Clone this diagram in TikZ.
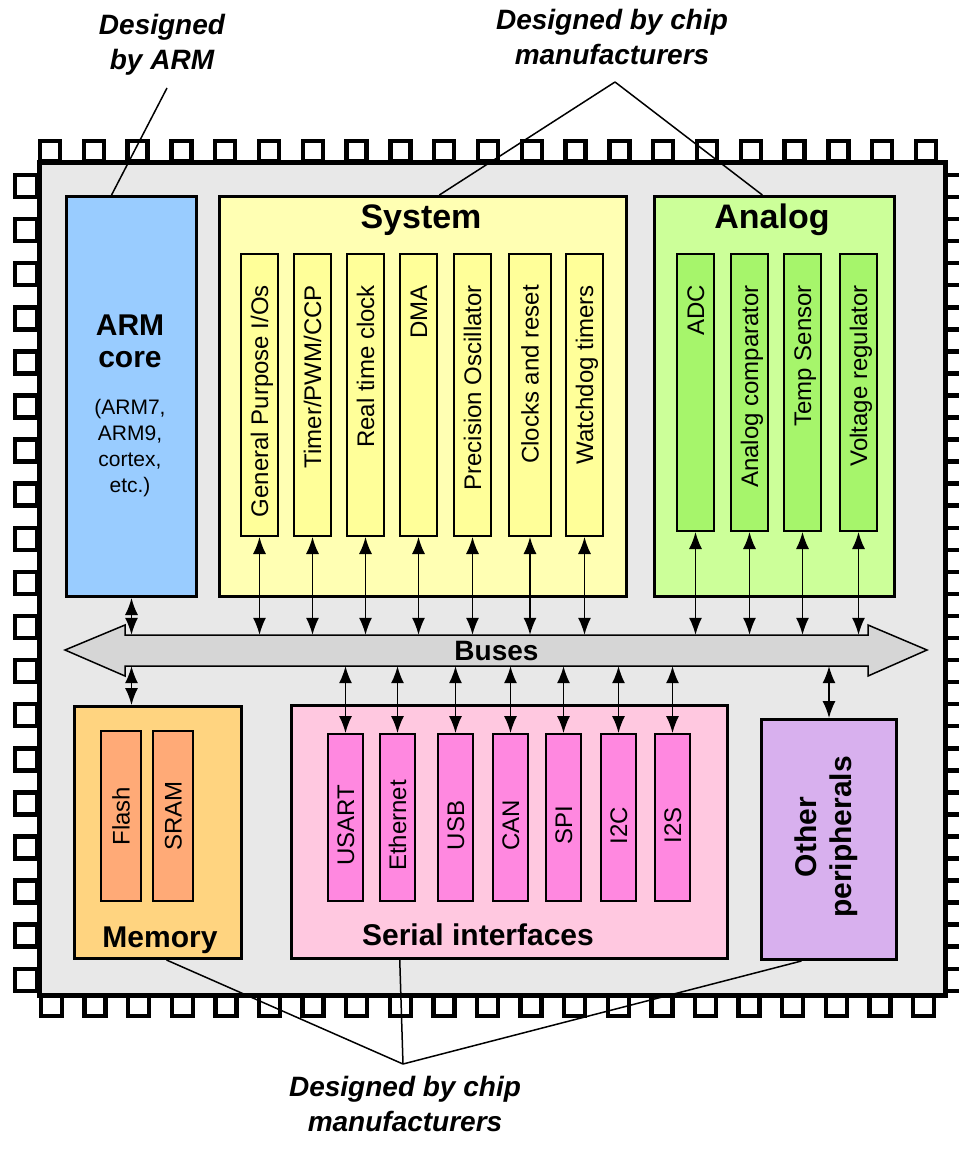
\documentclass[tikz,border=0pt]{standalone}
\usepackage{fontspec}
\setmainfont{Liberation Sans}
\usetikzlibrary{arrows.meta,calc}
\definecolor{bodyc}{HTML}{E8E8E8}
\definecolor{busc}{HTML}{D6D6D6}
\definecolor{armc}{HTML}{99CCFF}
\definecolor{sysc}{HTML}{FFFFB3}
\definecolor{sysbar}{HTML}{FFFF99}
\definecolor{anac}{HTML}{CCFF99}
\definecolor{anabar}{HTML}{A6F56B}
\definecolor{memc}{HTML}{FFD480}
\definecolor{membar}{HTML}{FFAA77}
\definecolor{serc}{HTML}{FFC8E0}
\definecolor{serbar}{HTML}{FF88E0}
\definecolor{othc}{HTML}{D8B0EE}
\tikzset{
  pinbox/.style={draw, line width=4.5pt, fill=white},
  bigbox/.style={draw, line width=3pt, inner sep=0pt},
  barbox/.style={draw, line width=2pt, inner sep=0pt, minimum width=37pt},
  barlbl/.style={font=\fontsize{24}{28}\selectfont, inner sep=0pt, text height=17.2pt, text depth=0pt, rotate=90, anchor=east},
  conn/.style={line width=1.4pt, {Latex[length=17pt,width=13pt]}-{Latex[length=17pt,width=13pt]}},
  ann/.style={font=\bfseries\itshape\fontsize{28}{35}\selectfont, align=center, inner sep=0pt},
  annline/.style={line width=1.5pt},
  ttl/.style={font=\bfseries\fontsize{34}{40}\selectfont, inner sep=0pt},
  sub/.style={font=\bfseries\fontsize{30}{36}\selectfont, inner sep=0pt},
}
\begin{document}
\begin{tikzpicture}[x=1pt,y=-1pt]
\useasboundingbox (0,0) rectangle (958,1150);
% pins
\foreach \i in {0,...,20} {
  \draw[pinbox] ({40+\i*43.8},141) rectangle ({60+\i*43.8},161);
  \draw[pinbox] ({41+\i*43.6},993) rectangle ({62+\i*43.6},1016);
}
\foreach \i in {0,...,18} {
  \draw[pinbox] (15,{175+\i*44.1}) rectangle (37,{197+\i*44.1});
  \draw[pinbox] (943,{175+\i*44.1}) rectangle (966,{197+\i*44.1});
}
% chip body
\node[draw, line width=4.5pt, fill=bodyc, inner sep=0pt, minimum width=906pt, minimum height=832.5pt, anchor=north west] (chip) at (37,160.5) {};

% ARM core
\node[bigbox, fill=armc, minimum width=130pt, minimum height=400pt, anchor=north west] (arm) at (65,195) {};
\node[sub] (armt1) at (130,325) {ARM};
\node[sub] (armt2) at (130,360) {core};
\node[font=\fontsize{21}{26}\selectfont, align=center, inner sep=0pt] (armt3) at (130,448) {(ARM7,\\ARM9,\\cortex,\\etc.)};

% System
\node[bigbox, fill=sysc, minimum width=407pt, minimum height=400pt, anchor=north west] (sys) at (218,195) {};
\node[ttl] (systt) at (421,220) {System};
\node[barbox, fill=sysbar, minimum height=282pt, anchor=north west] (s1) at (240,253) {};
\node[barbox, fill=sysbar, minimum height=282pt, anchor=north west] (s2) at (293,253) {};
\node[barbox, fill=sysbar, minimum height=282pt, anchor=north west] (s3) at (346,253) {};
\node[barbox, fill=sysbar, minimum height=282pt, anchor=north west] (s4) at (399,253) {};
\node[barbox, fill=sysbar, minimum height=282pt, anchor=north west] (s5) at (453,253) {};
\node[barbox, fill=sysbar, minimum height=282pt, anchor=north west, minimum width=42pt] (s6) at (508,253) {};
\node[barbox, fill=sysbar, minimum height=282pt, anchor=north west] (s7) at (565,253) {};
\node[barlbl] (s1t) at ([yshift=-32pt]s1.north) {General Purpose I/Os};
\node[barlbl] (s2t) at ([yshift=-32pt]s2.north) {Timer/PWM/CCP};
\node[barlbl] (s3t) at ([yshift=-32pt]s3.north) {Real time clock};
\node[barlbl] (s4t) at ([yshift=-32pt]s4.north) {DMA};
\node[barlbl] (s5t) at ([yshift=-32pt]s5.north) {Precision Oscillator};
\node[barlbl] (s6t) at ([yshift=-32pt]s6.north) {Clocks and reset};
\node[barlbl] (s7t) at ([yshift=-32pt]s7.north) {Watchdog timers};

% Analog
\node[bigbox, fill=anac, minimum width=240pt, minimum height=400pt, anchor=north west] (ana) at (653,195) {};
\node[ttl] (anatt) at (772,220) {Analog};
\node[barbox, fill=anabar, minimum height=277pt, anchor=north west] (a1) at (676,253) {};
\node[barbox, fill=anabar, minimum height=277pt, anchor=north west] (a2) at (730,253) {};
\node[barbox, fill=anabar, minimum height=277pt, anchor=north west] (a3) at (783,253) {};
\node[barbox, fill=anabar, minimum height=277pt, anchor=north west] (a4) at (839,253) {};
\node[barlbl] (a1t) at ([yshift=-32pt]a1.north) {ADC};
\node[barlbl] (a2t) at ([yshift=-32pt]a2.north) {Analog comparator};
\node[barlbl] (a3t) at ([yshift=-32pt]a3.north) {Temp Sensor};
\node[barlbl] (a4t) at ([yshift=-32pt]a4.north) {Voltage regulator};

% Buses
\draw[line width=1.5pt, fill=busc] (65,650) -- (125,625) -- (125,635) -- (868,635) -- (868,625) -- (927,650) -- (868,676) -- (868,666) -- (125,666) -- (125,676) -- cycle;
\node[inner sep=0pt, minimum width=743pt, minimum height=31pt, font=\bfseries\fontsize{28}{32}\selectfont] (bus) at (496.5,650.5) {Buses};

% Memory
\node[bigbox, fill=memc, minimum width=167pt, minimum height=252pt, anchor=north west] (mem) at (73,705) {};
\node[barbox, fill=membar, minimum width=40pt, minimum height=170pt, anchor=north west] (m1) at (100,730) {};
\node[barbox, fill=membar, minimum width=40pt, minimum height=170pt, anchor=north west] (m2) at (152,730) {};
\node[barlbl, anchor=center] (m1t) at (m1.center) {Flash};
\node[barlbl, anchor=center] (m2t) at (m2.center) {SRAM};
\node[sub] (memtt) at (160,940) {Memory};

% Serial interfaces
\node[bigbox, fill=serc, minimum width=436pt, minimum height=253pt, anchor=north west] (ser) at (290,704) {};
\node[barbox, fill=serbar, minimum width=35pt, minimum height=167pt, anchor=north west] (r1) at (327,733) {};
\node[barbox, fill=serbar, minimum width=35pt, minimum height=167pt, anchor=north west] (r2) at (379,733) {};
\node[barbox, fill=serbar, minimum width=35pt, minimum height=167pt, anchor=north west] (r3) at (437,733) {};
\node[barbox, fill=serbar, minimum width=35pt, minimum height=167pt, anchor=north west] (r4) at (492,733) {};
\node[barbox, fill=serbar, minimum width=35pt, minimum height=167pt, anchor=north west] (r5) at (545,733) {};
\node[barbox, fill=serbar, minimum width=35pt, minimum height=167pt, anchor=north west] (r6) at (600,733) {};
\node[barbox, fill=serbar, minimum width=35pt, minimum height=167pt, anchor=north west] (r7) at (654,733) {};
\node[barlbl, anchor=center] (r1t) at ([yshift=-8pt]r1.center) {USART};
\node[barlbl, anchor=center] (r2t) at ([yshift=-8pt]r2.center) {Ethernet};
\node[barlbl, anchor=center] (r3t) at ([yshift=-8pt]r3.center) {USB};
\node[barlbl, anchor=center] (r4t) at ([yshift=-8pt]r4.center) {CAN};
\node[barlbl, anchor=center] (r5t) at ([yshift=-8pt]r5.center) {SPI};
\node[barlbl, anchor=center] (r6t) at ([yshift=-8pt]r6.center) {I2C};
\node[barlbl, anchor=center] (r7t) at ([yshift=-8pt]r7.center) {I2S};
\node[sub] (sertt) at (478,935) {Serial interfaces};

% Other peripherals
\node[bigbox, fill=othc, minimum width=135pt, minimum height=240pt, anchor=north west] (oth) at (760,718) {};
\node[sub, rotate=90, align=center, font=\bfseries\fontsize{30}{35}\selectfont] (otht) at (826,837) {Other\\peripherals};

% connectors
\draw[conn] (arm.south) -- (arm.south |- bus.north);
\draw[conn] (mem.north -| arm.south) -- (arm.south |- bus.south);
\foreach \b in {s1,s2,s3,s4,s5,s6,s7,a1,a2,a3,a4} {
  \draw[conn] (\b.south) -- (\b.south |- bus.north);
}
\foreach \b in {r1,r2,r3,r4,r5,r6,r7} {
  \draw[conn] (bus.south -| \b.north) -- (\b.north);
}
\draw[conn] (bus.south -| oth.north) -- (oth.north);

% annotations
\node[ann] (annA) at (162,45) {Designed\\by ARM};
\node[ann] (annB) at (612,37) {Designed by chip\\manufacturers};
\node[ann] (annC) at (405,1104) {Designed by chip\\manufacturers};
\coordinate (pA) at (167,88);
\coordinate (pB) at (615,82);
\coordinate (pC) at (403,1064);
\draw[annline] (pA) -- ($(arm.north west)!0.35!(arm.north east)$);
\draw[annline] (pB) -- ($(sys.north west)!0.54!(sys.north east)$);
\draw[annline] (pB) -- ($(ana.north west)!0.45!(ana.north east)$);
\draw[annline] (pC) -- ($(mem.south west)!0.55!(mem.south east)$);
\draw[annline] (pC) -- ($(ser.south west)!0.25!(ser.south east)$);
\draw[annline] (pC) -- ($(oth.south west)!0.3!(oth.south east)$);
\end{tikzpicture}
\end{document}
